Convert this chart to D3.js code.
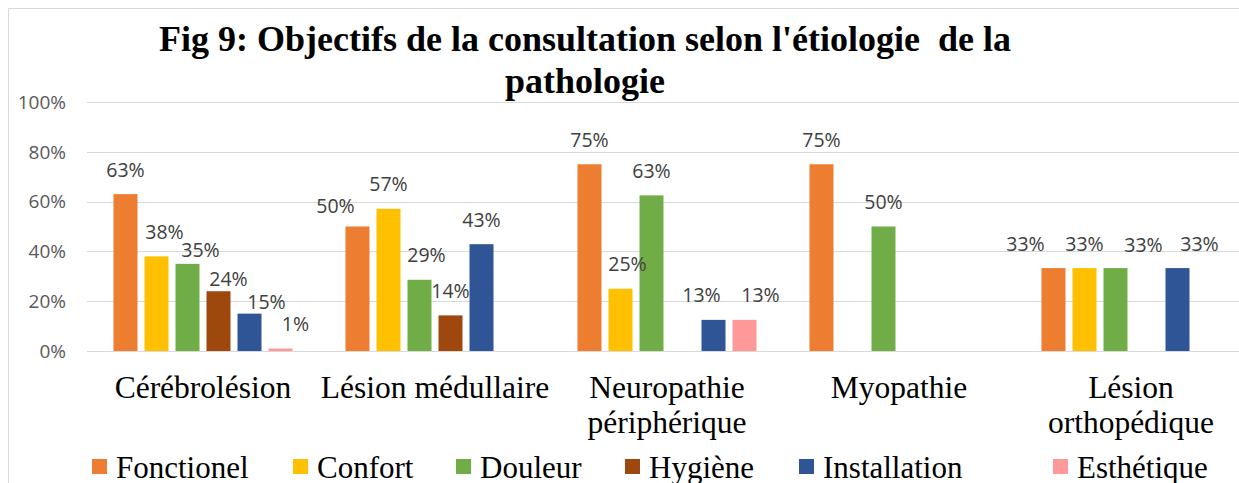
<!DOCTYPE html>
<html>
<head>
<meta charset="utf-8">
<script src="https://cdn.jsdelivr.net/npm/d3@7"></script>
<style>
  html, body { margin: 0; padding: 0; background: #fff; overflow: hidden; }
  svg { display: block; }
</style>
</head>
<body>
<script>
// data (percent)
var categories = ["Cérébrolésion", "Lésion médullaire", "Neuropathie périphérique", "Myopathie", "Lésion orthopédique"];
var catLines = [["Cérébrolésion"], ["Lésion médullaire"], ["Neuropathie", "périphérique"], ["Myopathie"], ["Lésion", "orthopédique"]];
var series = ["Fonctionel", "Confort", "Douleur", "Hygiène", "Installation", "Esthétique"];

var fonctionel   = [63, 50, 75, 75, 33.3];
var confort      = [38, 57.1, 25, null, 33.3];
var douleur      = [35, 28.6, 62.5, 50, 33.3];
var hygiene      = [24, 14.3, null, null, null];
var installation = [15, 42.9, 12.5, null, 33.3];
var esthetique   = [1, null, 12.5, null, null];
var yTicks = [0, 20, 40, 60, 80, 100];

var values = [fonctionel, confort, douleur, hygiene, installation, esthetique];
var colors = ["#ED7D31", "#FFC000", "#70AD47", "#9E480E", "#2F5597", "#FF9999"];

// labels that were dragged by hand in the original (dx, dy)
var nudge = {
    "0-1": [8, 0], "0-2": [13, 11], "0-3": [10, 12], "0-4": [17, 13], "0-5": [15, 0],
    "1-0": [-22, 4], "1-2": [7, 0],
    "2-1": [7, 0], "2-4": [-12, 0], "2-5": [16, 0],
    "4-0": [-28, 0], "4-2": [28, 1], "4-4": [22, 0]
};
// legend slots as laid out in the original
var legendX = [92, 293, 456, 625, 799, 1053];

var width = 1239, height = 483;
var plotLeft = 87, band = 232;

var svg = d3.select("body").append("svg")
    .attr("width", width)
    .attr("height", height);

// chart frame (cut on the right / bottom)
svg.append("path")
    .attr("d", "M8.5," + height + "V8.5H" + width)
    .attr("fill", "none")
    .attr("stroke", "#d9d9d9")
    .attr("stroke-width", 1);

var x0 = d3.scaleBand()
    .domain(categories)
    .range([plotLeft, plotLeft + band * categories.length]);

var x1 = d3.scaleBand()
    .domain(series)
    .range([26.5, band - 26.5])
    .paddingInner(0.226);

var y = d3.scaleLinear()
    .domain([0, 100])
    .range([351, 102]);

// gridlines
svg.append("g").selectAll("line")
    .data(yTicks)
    .enter().append("line")
    .attr("x1", plotLeft)
    .attr("x2", width)
    .attr("y1", function (d) { return Math.round(y(d)) + 0.5; })
    .attr("y2", function (d) { return Math.round(y(d)) + 0.5; })
    .attr("stroke", "#d9d9d9")
    .attr("stroke-width", 1.2);

// y labels
svg.append("g").selectAll("text")
    .data(yTicks)
    .enter().append("text")
    .attr("x", 66)
    .attr("y", function (d) { return y(d); })
    .attr("dy", "0.36em")
    .attr("text-anchor", "end")
    .attr("font-family", "'Open Sans', sans-serif")
    .attr("font-size", 19)
    .attr("fill", "#595959")
    .text(function (d) { return d + "%"; });

// bars
var cells = [];
categories.forEach(function (c, ci) {
    series.forEach(function (s, si) {
        var v = values[si][ci];
        if (v != null) cells.push({ c: c, ci: ci, s: s, si: si, v: v });
    });
});

svg.append("g").selectAll("rect")
    .data(cells)
    .enter().append("rect")
    .attr("x", function (d) { return x0(d.c) + x1(d.s); })
    .attr("y", function (d) { return y(d.v); })
    .attr("width", x1.bandwidth())
    .attr("height", function (d) { return y(0) - y(d.v); })
    .attr("fill", function (d) { return colors[d.si]; });

// value labels
svg.append("g").selectAll("text")
    .data(cells)
    .enter().append("text")
    .attr("x", function (d) {
        var n = nudge[d.ci + "-" + d.si] || [0, 0];
        return x0(d.c) + x1(d.s) + x1.bandwidth() / 2 + n[0];
    })
    .attr("y", function (d) {
        var n = nudge[d.ci + "-" + d.si] || [0, 0];
        return y(d.v) - 17.5 + n[1];
    })
    .attr("text-anchor", "middle")
    .attr("font-family", "'Open Sans', sans-serif")
    .attr("font-size", 19.5)
    .attr("fill", "#404040")
    .text(function (d) { return Math.round(d.v) + "%"; });

// category labels
var catG = svg.append("g").selectAll("text")
    .data(categories)
    .enter().append("text")
    .attr("text-anchor", "middle")
    .attr("font-family", "'Liberation Serif', 'Times New Roman', serif")
    .attr("font-size", 31.5)
    .attr("fill", "#000");

catG.selectAll("tspan")
    .data(function (d, i) { return catLines[i].map(function (l) { return { l: l, c: d }; }); })
    .enter().append("tspan")
    .attr("x", function (d) { return x0(d.c) + band / 2; })
    .attr("y", function (d, i) { return 398 + i * 34.5; })
    .text(function (d) { return d.l; });

// title
var title = svg.append("text")
    .attr("text-anchor", "middle")
    .attr("font-family", "'Liberation Serif', 'Times New Roman', serif")
    .attr("font-weight", "bold")
    .attr("font-size", 36)
    .attr("fill", "#000")
    .attr("xml:space", "preserve");
title.append("tspan").attr("x", 585).attr("y", 51)
    .text("Fig 9: Objectifs de la consultation selon l'étiologie  de la");
title.append("tspan").attr("x", 585).attr("y", 93)
    .text("pathologie");

// legend
var leg = svg.append("g").selectAll("g")
    .data(series)
    .enter().append("g")
    .attr("transform", function (d, i) { return "translate(" + legendX[i] + ",0)"; });

leg.append("rect")
    .attr("x", 0)
    .attr("y", 459)
    .attr("width", 15)
    .attr("height", 15)
    .attr("fill", function (d, i) { return colors[i]; });

leg.append("text")
    .attr("x", 24)
    .attr("y", 477.5)
    .attr("font-family", "'Liberation Serif', 'Times New Roman', serif")
    .attr("font-size", 31)
    .attr("fill", "#000")
    .text(function (d) { return d; });
</script>
</body>
</html>
